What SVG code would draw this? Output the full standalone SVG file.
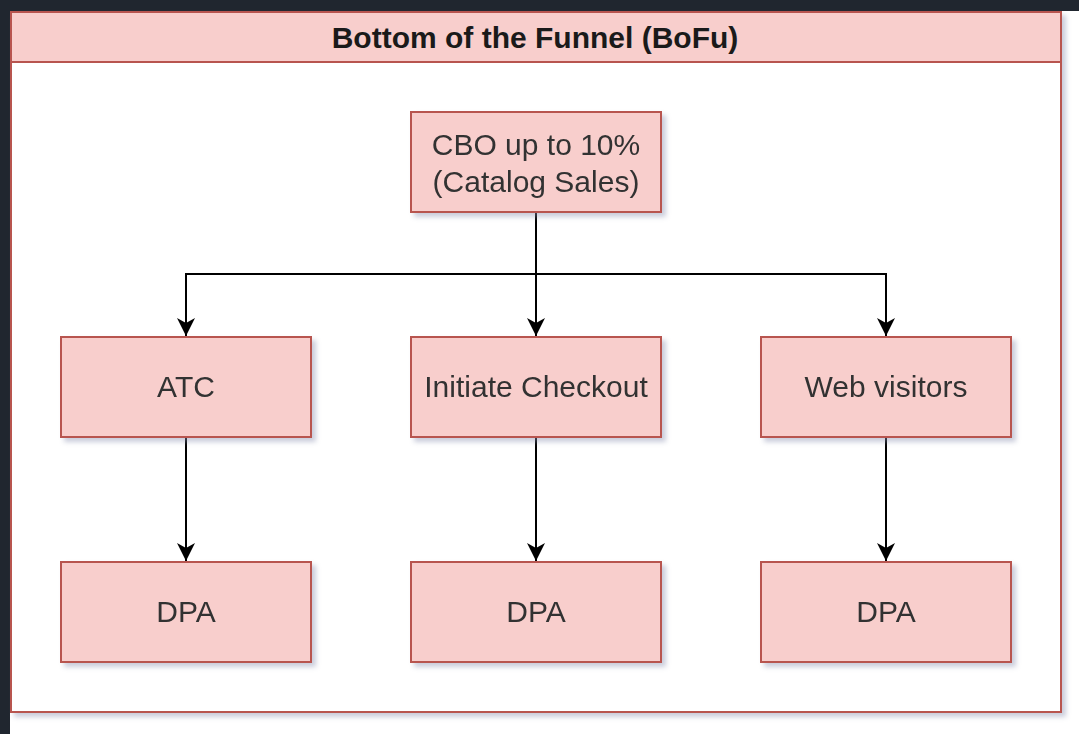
<svg xmlns="http://www.w3.org/2000/svg" width="1079" height="734" viewBox="0 0 1079 734">
<defs>
<filter id="sh" x="-10%" y="-10%" width="130%" height="130%">
<feGaussianBlur in="SourceAlpha" stdDeviation="2.5"/>
<feOffset dx="4" dy="4" result="b"/>
<feFlood flood-color="#8a90b0" flood-opacity="0.45"/>
<feComposite in2="b" operator="in"/>
<feMerge><feMergeNode/><feMergeNode in="SourceGraphic"/></feMerge>
</filter>
<marker id="ah" markerWidth="20" markerHeight="20" refX="18" refY="9" orient="auto" markerUnits="userSpaceOnUse" viewBox="0 0 20 20">
<path d="M0,0 L18,9 L0,18 L5,9 Z" fill="#000"/>
</marker>
<style>
.box{fill:#f8cecc;stroke:#b85450;stroke-width:2}
.t{font-family:"Liberation Sans",Arial,sans-serif;font-size:30px;fill:#333;text-anchor:middle}
.c{fill:none;stroke:#000;stroke-width:2}
</style>
</defs>
<rect width="1079" height="734" fill="#fff"/>
<rect width="1079" height="11" fill="#20262f"/>
<rect width="10" height="734" fill="#20262f"/>
<g id="container" filter="url(#sh)">
<rect x="11" y="12" width="1050" height="700" fill="#fff" stroke="#b85450" stroke-width="2"/>
<rect class="box" x="11" y="12" width="1050" height="50"/>
</g>
<text class="t" x="535" y="48" style="font-size:30px;font-weight:bold;fill:#1a1a1a">Bottom of the Funnel (BoFu)</text>
<g id="connectors">
<path class="c" d="M536,212 V274 H186 V336" marker-end="url(#ah)"/>
<path class="c" d="M536,274 V336" marker-end="url(#ah)"/>
<path class="c" d="M536,274 H886 V336" marker-end="url(#ah)"/>
<path class="c" d="M186,437 V561" marker-end="url(#ah)"/>
<path class="c" d="M536,437 V561" marker-end="url(#ah)"/>
<path class="c" d="M886,437 V561" marker-end="url(#ah)"/>
</g>
<g id="cbo" filter="url(#sh)"><rect class="box" x="411" y="112" width="250" height="100"/><text class="t" x="536" y="155">CBO up to 10%</text><text class="t" x="536" y="192">(Catalog Sales)</text></g>
<g id="atc" filter="url(#sh)"><rect class="box" x="61" y="337" width="250" height="100"/><text class="t" x="186" y="397">ATC</text></g>
<g id="checkout" filter="url(#sh)"><rect class="box" x="411" y="337" width="250" height="100"/><text class="t" x="536" y="397">Initiate Checkout</text></g>
<g id="web" filter="url(#sh)"><rect class="box" x="761" y="337" width="250" height="100"/><text class="t" x="886" y="397">Web visitors</text></g>
<g id="dpa1" filter="url(#sh)"><rect class="box" x="61" y="562" width="250" height="100"/><text class="t" x="186" y="622">DPA</text></g>
<g id="dpa2" filter="url(#sh)"><rect class="box" x="411" y="562" width="250" height="100"/><text class="t" x="536" y="622">DPA</text></g>
<g id="dpa3" filter="url(#sh)"><rect class="box" x="761" y="562" width="250" height="100"/><text class="t" x="886" y="622">DPA</text></g>
</svg>
